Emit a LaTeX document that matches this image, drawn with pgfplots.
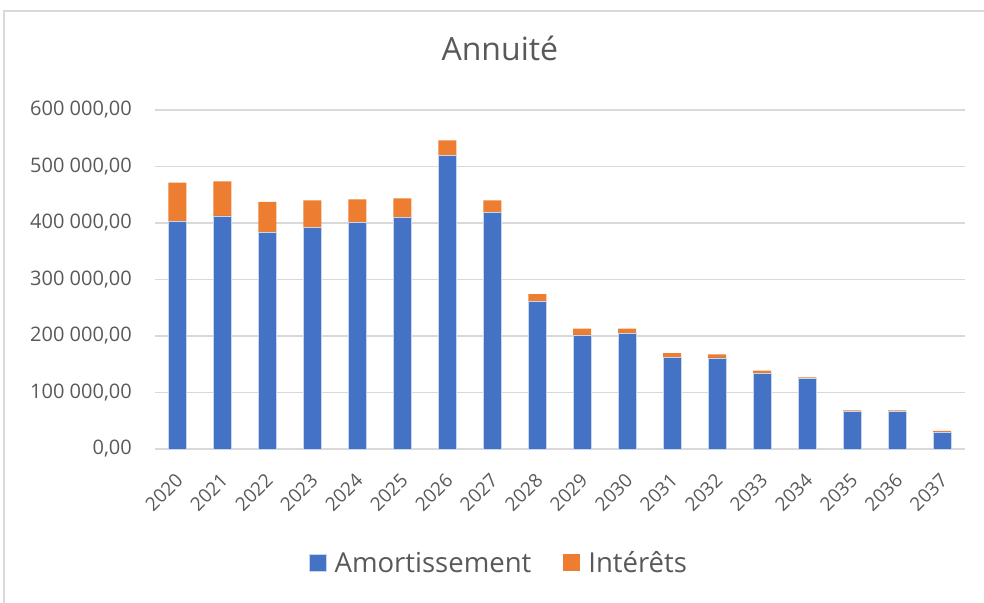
\documentclass[border=0pt]{standalone}
\usepackage{fontspec}
\setmainfont{Open Sans}
\usepackage{pgfplots}
\pgfplotsset{compat=1.18}

\definecolor{amort}{HTML}{4472C4}
\definecolor{inter}{HTML}{ED7D31}
\definecolor{txt}{HTML}{595959}
\definecolor{gridc}{HTML}{D9D9D9}

% annuity split per year (year index 0 = 2020)
\pgfplotstableread{
x amort inter
0  403000 68300
1  412400 61400
2  382800 54400
3  391700 48400
4  400500 41400
5  410100 33600
6  519100 27300
7  418900 21200
8  260700 13600
9  201800 11100
10 204800 8100
11 161600 8300
12 161100 6500
13 134000 4600
14 125100 1800
15 66700  1800
16 66700  1800
17 29500  2400
}\annuite

\begin{document}
\begin{tikzpicture}
\useasboundingbox (0,0) rectangle (984pt,602pt);
\draw[gridc, line width=1.2pt] (4pt,-10pt) -- (4pt,591pt) -- (1000pt,591pt);
\begin{axis}[
    at={(155pt,153pt)}, anchor=south west,
    scale only axis,
    width=809.5pt, height=339pt,
    ybar stacked, bar width=18pt,
    xmin=-0.5, xmax=17.5,
    ymin=0, ymax=600000,
    xtick=data,
    xticklabels={2020,2021,2022,2023,2024,2025,2026,2027,2028,2029,2030,2031,2032,2033,2034,2035,2036,2037},
    ytick={0,100000,...,600000},
    scaled y ticks=false,
    yticklabel style={/pgf/number format/fixed, /pgf/number format/fixed zerofill,
        /pgf/number format/precision=2, /pgf/number format/use comma,
        /pgf/number format/1000 sep={\ }, /pgf/number format/assume math mode=true},
    yticklabel style={font=\fontsize{20}{24}\selectfont, text=txt, inner sep=0pt, xshift=-23pt},
    xticklabel style={font=\fontsize{19}{23}\selectfont, text=txt, inner sep=0pt,
        yshift=-28pt, xshift=2pt, rotate=45, anchor=east},
    major tick length=0pt,
    axis line style={draw=none},
    ymajorgrids, grid style={gridc, line width=1.5pt},
    title={Annuité},
    title style={font=\fontsize{32}{38}\selectfont, text=txt,
        at={(axis description cs:0.426,1.127)}, anchor=base},
    legend columns=2,
    legend style={draw=none, fill=none, font=\fontsize{27.5}{32}\selectfont, text=txt,
        at={(axis description cs:0.425,-0.336)}, anchor=center,
        /tikz/every odd column/.append style={column sep=6pt},
        /tikz/every even column/.append style={column sep=30pt}},
    legend image code/.code={\fill[#1] (0pt,-8.5pt) rectangle (17pt,8.5pt);},
    clip=false,
]
\addplot[fill=amort, draw=white!70!amort, line width=0.5pt] table[x=x, y=amort] {\annuite};
\addlegendentry{Amortissement}
\addplot[fill=inter, draw=none] table[x=x, y=inter] {\annuite};
\addlegendentry{Intérêts}
\draw[gridc, line width=1.5pt] (axis cs:-0.5,0) -- (axis cs:17.5,0);
\end{axis}
\end{tikzpicture}
\end{document}
